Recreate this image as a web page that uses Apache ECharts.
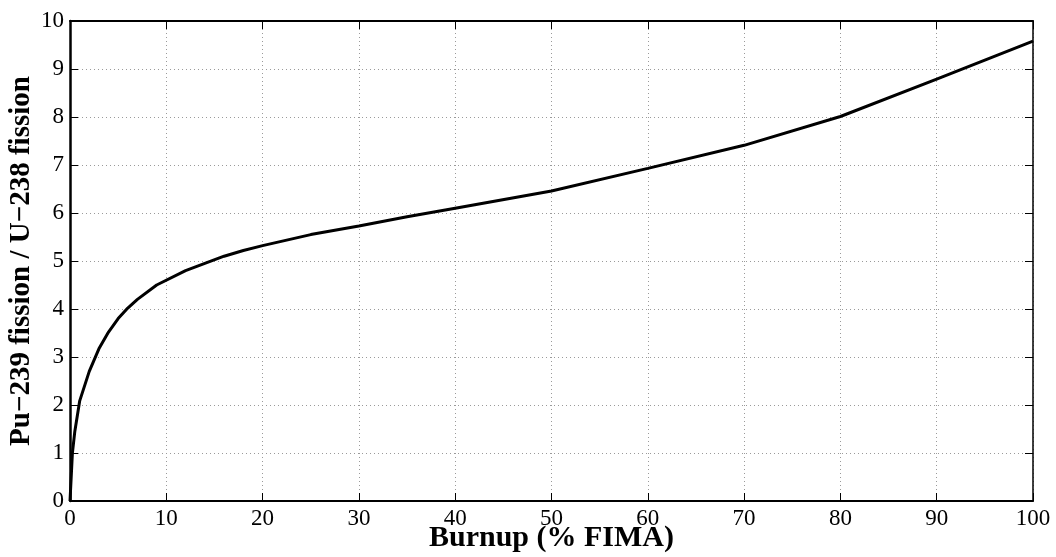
<!DOCTYPE html>
<html>
<head>
<meta charset="utf-8">
<script src="https://cdn.jsdelivr.net/npm/echarts@6/dist/echarts.min.js"></script>
<style>
  html, body { margin: 0; padding: 0; background: #fff; }
  #chart { width: 1056px; height: 557px; }
</style>
</head>
<body>
<div id="chart"></div>
<script>
// Burnup in % FIMA
const burnup = [0, 0.25, 0.5, 1, 2, 3, 4, 5, 6, 7, 9, 12, 16, 18, 20, 25, 30, 35, 40, 50, 60, 70, 80, 90, 100];
// Ratio of Pu-239 fissions to U-238 fissions
const fissionRatio = [0, 1.0, 1.45, 2.08, 2.7, 3.17, 3.52, 3.8, 4.02, 4.2, 4.5, 4.8, 5.1, 5.22, 5.32, 5.55, 5.73, 5.92, 6.1, 6.46, 6.93, 7.41, 8.01, 8.79, 9.58];

const xTicks = [0, 10, 20, 30, 40, 50, 60, 70, 80, 90, 100];
const yTicks = [0, 1, 2, 3, 4, 5, 6, 7, 8, 9, 10];

const serif = 'Liberation Serif';
const frameLine = { show: true, onZero: false, lineStyle: { color: '#000', width: 1.5 } };
const innerTick = { show: true, inside: true, length: 8, lineStyle: { color: '#000', width: 1 } };
const dotted = { show: true, lineStyle: { color: '#9a9a9a', type: [1, 3], width: 1 } };

const chart = echarts.init(document.getElementById('chart'), null, { renderer: 'canvas' });
chart.setOption({
  animation: false,
  backgroundColor: '#fff',
  grid: { left: 70, right: 23, top: 21, bottom: 56, containLabel: false, outerBoundsMode: 'none' },
  xAxis: [
    {
      type: 'value', min: xTicks[0], max: xTicks[xTicks.length - 1], interval: 10,
      position: 'bottom',
      axisLine: { ...frameLine, lineStyle: { color: '#000', width: 2 } },
      axisTick: innerTick,
      splitLine: dotted,
      axisLabel: { color: '#000', fontFamily: serif, fontSize: 23, margin: 6 },
      name: 'Burnup (% FIMA)', nameLocation: 'middle', nameGap: 22, nameMoveOverlap: false,
      nameTextStyle: { color: '#000', fontFamily: serif, fontSize: 30, fontWeight: 'bold' }
    },
    {
      type: 'value', min: 0, max: 100, interval: 10, position: 'top',
      axisLine: { ...frameLine, lineStyle: { color: '#000', width: 2 } }, axisTick: innerTick,
      axisLabel: { show: false }, splitLine: { show: false }
    }
  ],
  yAxis: [
    {
      type: 'value', min: yTicks[0], max: yTicks[yTicks.length - 1], interval: 1,
      position: 'left',
      axisLine: { ...frameLine, lineStyle: { color: '#000', width: 2.5 } },
      axisTick: innerTick,
      splitLine: dotted,
      axisLabel: { color: '#000', fontFamily: serif, fontSize: 23, margin: 6 },
      name: 'Pu\u2212239 fission / U\u2212238 fission', nameLocation: 'middle', nameGap: 34, nameMoveOverlap: false,
      nameTextStyle: { color: '#000', fontFamily: serif, fontSize: 29, fontWeight: 'bold' }
    },
    {
      type: 'value', min: 0, max: 10, interval: 1, position: 'right',
      axisLine: frameLine, axisTick: innerTick,
      axisLabel: { show: false }, splitLine: { show: false }
    }
  ],
  series: [
    {
      type: 'line',
      xAxisIndex: 0, yAxisIndex: 0,
      data: burnup.map((b, i) => [b, fissionRatio[i]]),
      showSymbol: false,
      lineStyle: { color: '#000', width: 3 },
      z: 5
    }
  ]
});
</script>
</body>
</html>
